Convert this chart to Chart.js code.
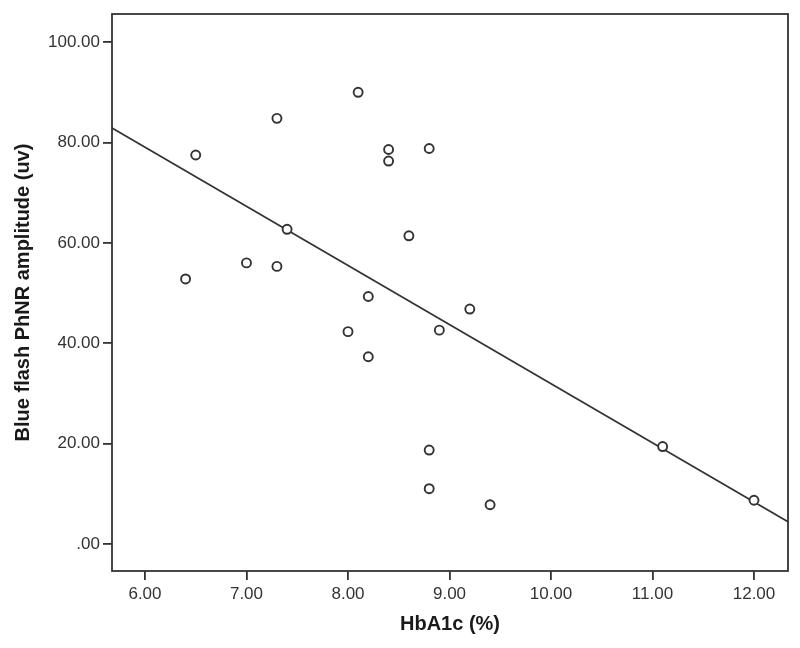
<!DOCTYPE html>
<html>
<head>
<meta charset="utf-8">
<script src="https://cdn.jsdelivr.net/npm/chart.js@4.4.1/dist/chart.umd.min.js"></script>
<style>
  html, body { margin: 0; padding: 0; background: #fff; }
  #wrap { width: 800px; height: 648px; }
</style>
</head>
<body>
<div id="wrap"><canvas id="scatter"></canvas></div>
<script>
// HbA1c (%) vs blue flash PhNR amplitude (uv)
const hba1c = [6.4, 6.5, 7.0, 7.3, 7.3, 7.4, 8.0, 8.1, 8.2, 8.2, 8.4, 8.4, 8.6, 8.8, 8.8, 8.8, 8.9, 9.2, 9.4, 11.1, 12.0];
const phnr  = [52.8, 77.5, 56.0, 84.8, 55.3, 62.7, 42.3, 90.0, 49.3, 37.3, 78.6, 76.3, 61.4, 78.8, 18.7, 11.0, 42.6, 46.8, 7.8, 19.4, 8.7];

// fit line end points, at the frame edges
const fitX = [5.675, 12.335];
const fitY = [82.9, 4.4];

const xTicks = [6, 7, 8, 9, 10, 11, 12];
const yTicks = [0, 20, 40, 60, 80, 100];

const ink = '#333333';
const tickFont = { family: 'Liberation Sans, Arial, sans-serif', size: 17 };
const titleFont = { family: 'Liberation Sans, Arial, sans-serif', size: 20, weight: 'bold' };

const fmt = v => v === 0 ? '.00' : v.toFixed(2);

// box round the plot area
const frame = {
  id: 'frame',
  afterDatasetsDraw(chart) {
    const a = chart.chartArea;
    const ctx = chart.ctx;
    ctx.save();
    ctx.strokeStyle = ink;
    ctx.lineWidth = 1.8;
    ctx.strokeRect(a.left, a.top, a.right - a.left, a.bottom - a.top);
    ctx.restore();
  }
};

new Chart(document.getElementById('scatter'), {
  type: 'scatter',
  data: {
    datasets: [
      {
        data: hba1c.map((x, i) => ({ x: x, y: phnr[i] })),
        pointRadius: 4.5,
        pointBorderWidth: 1.9,
        pointBorderColor: ink,
        pointBackgroundColor: '#ffffff',
        order: 1
      },
      {
        type: 'line',
        data: fitX.map((x, i) => ({ x: x, y: fitY[i] })),
        borderColor: ink,
        borderWidth: 1.8,
        pointRadius: 0,
        fill: false,
        order: 2
      }
    ]
  },
  options: {
    responsive: true,
    maintainAspectRatio: false,
    animation: false,
    layout: { padding: { top: 14, right: 12, left: 0, bottom: 0 } },
    plugins: { legend: { display: false }, tooltip: { enabled: false } },
    scales: {
      x: {
        type: 'linear',
        min: 5.675,
        max: 12.335,
        afterBuildTicks: s => { s.ticks = xTicks.map(v => ({ value: v })); },
        afterFit: s => { s.height = 77; },
        border: { display: false },
        grid: { drawOnChartArea: false, drawTicks: true, tickLength: 9, color: ink, lineWidth: 1.8 },
        ticks: { color: ink, font: tickFont, padding: 4, maxRotation: 0, callback: fmt },
        title: { display: true, text: 'HbA1c (%)', color: '#1a1a1a', font: titleFont, padding: { top: 0, bottom: 12 } }
      },
      y: {
        type: 'linear',
        min: -5.4,
        max: 105.6,
        afterBuildTicks: s => { s.ticks = yTicks.map(v => ({ value: v })); },
        afterFit: s => { s.width = 112; },
        border: { display: false },
        grid: { drawOnChartArea: false, drawTicks: true, tickLength: 9, color: ink, lineWidth: 1.8 },
        ticks: { color: ink, font: tickFont, padding: 3, callback: fmt },
        title: { display: true, text: 'Blue flash PhNR amplitude (uv)', color: '#1a1a1a', font: titleFont, padding: { top: 11, bottom: 0 } }
      }
    }
  },
  plugins: [frame]
});
</script>
</body>
</html>
